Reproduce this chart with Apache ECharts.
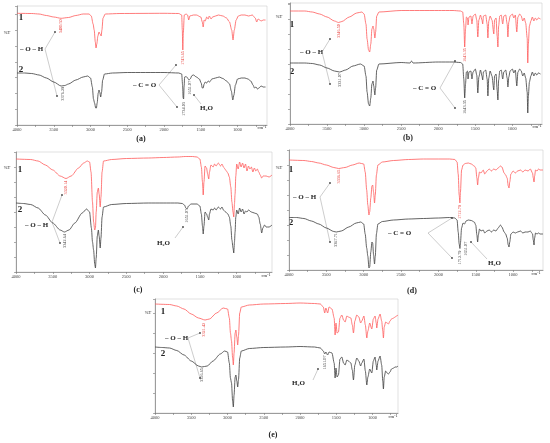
<!DOCTYPE html>
<html>
<head>
<meta charset="utf-8">
<script src="https://cdn.jsdelivr.net/npm/echarts@6/dist/echarts.min.js"></script>
<style>
  html, body { margin: 0; padding: 0; background: #fff; }
  #chart { width: 550px; height: 443px; }
</style>
</head>
<body>
<div id="chart"></div>
<script>
// wavenumber ticks shared by every panel
var wnTicks = [4000, 3500, 3000, 2500, 2000, 1500, 1000];
var wnMinor = [4000, 3750, 3500, 3250, 3000, 2750, 2500, 2250, 2000, 1750, 1500, 1250, 1000, 750];

// (a) spectra, [wavenumber, %T]
var a1 = [[4000,111.7],[3800,111.5],[3700,111],[3600,109.5],[3500,108],[3400,106.7],[3300,107.5],[3200,109.5],[3100,111],[3020,111],[2990,109],[2965,101],[2950,95],[2935,83],[2925,77],[2915,81],[2900,89],[2885,93],[2870,91],[2855,89],[2845,95],[2830,107],[2800,111],[2600,111.5],[2000,111.7],[1800,111.5],[1760,110],[1752,95],[1745,75],[1738,92],[1725,110],[1700,111],[1680,110],[1665,105],[1650,109],[1600,110],[1560,110],[1500,108],[1480,103],[1468,98],[1455,105],[1440,104],[1420,108],[1400,106],[1385,109],[1360,106],[1340,108],[1300,109],[1260,110],[1200,109],[1150,107],[1110,103],[1080,95],[1062,85],[1045,95],[1020,105],[990,109],[950,110],[900,110],[850,109],[800,110],[760,107],[740,103],[720,106],[700,105],[680,104],[650,105],[620,105]];
var a2 = [[4000,52],[3900,52],[3800,51.5],[3700,50],[3600,47],[3500,43],[3400,39],[3350,39.5],[3300,41],[3200,45],[3100,48],[3040,49],[3000,47],[2975,38],[2960,26],[2945,22],[2930,17],[2920,17],[2910,22],[2895,32],[2885,35],[2875,33],[2862,28],[2850,33],[2835,45],[2810,51],[2700,52],[2500,52.5],[2000,52.5],[1800,52],[1760,51],[1748,40],[1740,27],[1734,26],[1728,38],[1720,48],[1700,48.5],[1680,47],[1660,45],[1645,46],[1620,49.5],[1600,50],[1560,48],[1520,46],[1495,42],[1480,37],[1468,37],[1455,41],[1440,43],[1420,42],[1400,44],[1380,43],[1350,46],[1300,47],[1250,48],[1200,46.5],[1150,44],[1110,41],[1085,34],[1065,25],[1050,30],[1030,40],[1000,46],[950,47],[900,47],[860,46],[820,44],[790,40],[770,37],[750,38],[730,36],[710,37],[680,39],[650,38],[620,38]];

// (b)
var b1 = [[4000,113],[3800,113],[3700,112],[3600,110],[3500,107],[3400,103],[3346,101.5],[3300,102.5],[3200,107],[3100,111],[3030,112],[3000,110],[2975,100],[2960,85],[2940,74],[2925,72],[2910,80],[2895,95],[2880,98],[2870,95],[2855,86],[2845,92],[2830,108],[2800,112],[2500,113.5],[2000,113.5],[1800,113.5],[1700,113],[1670,112],[1655,100],[1643,77],[1632,95],[1620,107],[1605,106],[1598,99],[1585,107],[1560,108],[1545,100],[1530,108],[1500,110],[1480,104],[1466,87],[1452,104],[1430,109],[1410,104],[1400,100],[1390,108],[1360,109],[1340,100],[1330,86],[1318,103],[1300,108],[1275,104],[1250,90],[1240,104],[1220,106],[1205,88],[1195,77],[1185,98],[1170,108],[1150,109],[1130,100],[1115,108],[1090,109],[1070,100],[1060,87],[1048,102],[1030,108],[1000,110],[980,106],[960,109],[940,92],[925,107],[900,110],[880,108],[860,103],[840,106],[820,101],[800,86],[792,61],[784,80],[770,98],[750,103],[730,107],[710,103],[690,106],[670,104],[650,106],[620,105]];
var b2 = [[4000,61],[3800,61],[3700,60.5],[3600,59],[3500,56],[3400,53],[3331,52],[3250,54],[3150,58],[3050,60],[3000,58],[2975,48],[2960,32],[2940,20],[2925,18],[2910,26],[2895,40],[2880,43],[2870,38],[2855,29],[2845,36],[2830,54],[2800,60],[2500,61.5],[2380,61],[2360,63],[2340,61],[2000,62],[1800,62],[1700,61.5],[1670,60],[1655,45],[1643,26],[1632,40],[1620,52],[1605,53],[1598,45],[1585,52],[1560,53],[1545,45],[1530,52],[1500,55],[1480,49],[1466,31],[1452,47],[1430,54],[1410,48],[1400,44],[1390,52],[1360,54],[1340,45],[1330,28],[1318,46],[1300,53],[1275,48],[1250,34],[1240,48],[1220,50],[1205,34],[1195,24],[1185,44],[1170,53],[1150,54],[1130,45],[1115,52],[1090,54],[1070,46],[1060,37],[1048,47],[1030,53],[1000,55],[980,51],[960,54],[940,38],[925,52],[900,55],[880,53],[860,48],[840,51],[820,46],[800,32],[792,11],[784,28],[770,42],[750,48],[730,52],[710,48],[690,51],[670,49],[650,51],[620,50]];

// (c)
var c1 = [[4000,113],[3800,112.5],[3700,111],[3600,107],[3500,102],[3400,96],[3320,93.5],[3250,96],[3150,104],[3080,109],[3030,111],[3000,110],[2980,100],[2960,70],[2945,50],[2930,42],[2920,44],[2910,60],[2895,80],[2880,84],[2870,78],[2855,65],[2845,75],[2830,100],[2810,111],[2700,112.5],[2500,113.5],[2200,114],[2000,114.5],[1800,115],[1700,115.5],[1600,115.5],[1540,115],[1500,113],[1480,105],[1465,90],[1455,77],[1445,90],[1430,106],[1410,104],[1395,98],[1380,93],[1370,100],[1350,107],[1320,105],[1300,108],[1280,106],[1250,109],[1220,106],[1200,108],[1180,105],[1150,102],[1120,99],[1100,95],[1080,85],[1065,70],[1050,60],[1040,55],[1030,68],[1022,78],[1012,96],[1000,108],[980,103],[960,110],[940,105],[920,109],[900,104],[880,108],[860,101],[840,106],[820,103],[800,105],[780,100],[760,104],[740,101],[720,103],[700,100],[680,97],[660,94],[640,96],[600,96],[560,95],[520,97]];
var c2 = [[4000,69],[3900,68.5],[3800,67.5],[3700,64],[3600,57],[3500,49],[3400,42],[3342,40],[3280,42],[3200,49],[3100,59],[3040,63],[3000,60],[2975,44],[2960,30],[2945,22],[2930,8],[2920,4],[2910,14],[2895,36],[2880,42],[2870,36],[2855,24],[2845,34],[2830,55],[2810,65],[2700,67.5],[2500,68.5],[2200,69],[2000,69],[1800,69],[1740,68.5],[1710,67],[1690,64],[1675,63],[1655,66],[1620,68],[1540,68],[1500,66],[1480,58],[1465,46],[1455,38],[1445,46],[1430,60],[1410,58],[1395,55],[1380,52],[1370,58],[1350,63],[1320,62],[1300,64],[1280,62],[1250,65],[1220,63],[1200,65],[1180,62],[1150,60],[1120,58],[1100,55],[1080,46],[1065,32],[1050,24],[1040,19],[1030,30],[1022,40],[1012,55],[1000,62],[980,58],[960,64],[940,60],[920,63],[900,58],[880,61],[860,60],[840,62],[800,60],[760,59],[720,58],[700,55],[680,48],[660,39],[645,44],[620,47],[600,45],[560,45],[520,47]];

// (d)
var d1 = [[4000,110],[3800,109.5],[3700,108.5],[3600,107],[3500,105],[3400,102.5],[3336,101.5],[3250,102.5],[3150,105],[3060,107],[3000,106],[2980,98],[2960,80],[2945,65],[2930,55],[2920,58],[2905,72],[2890,84],[2880,85],[2868,78],[2855,67],[2845,75],[2830,95],[2810,105],[2750,108],[2600,109.5],[2400,110.5],[2200,111],[2000,111],[1850,111],[1780,110.5],[1750,108],[1735,96],[1722,75],[1712,67],[1705,78],[1690,100],[1670,105],[1640,106.5],[1600,107],[1560,106],[1520,104],[1500,102],[1485,92],[1475,85],[1465,92],[1450,98],[1430,97],[1400,100],[1380,96],[1350,99],[1320,101],[1290,99],[1260,101],[1230,100],[1200,102],[1170,104],[1150,103],[1120,97],[1100,95],[1080,92],[1065,84],[1055,82],[1045,88],[1030,96],[1000,99],[970,97],[940,99],[900,100],[870,98],[840,100],[800,99],[770,101],[740,97],[730,92],[720,88],[712,94],[700,100],[680,99],[660,101],[640,100],[600,100]];
var d2 = [[4000,52.5],[3900,52.5],[3800,51.5],[3700,49],[3600,46],[3500,42],[3400,38.5],[3367,38],[3300,39],[3200,43],[3100,47],[3040,48],[3000,46],[2980,36],[2960,22],[2945,14],[2930,2],[2920,3],[2905,18],[2890,28],[2880,27],[2868,15],[2855,6],[2845,14],[2830,36],[2810,46],[2750,48.5],[2600,50],[2400,51],[2200,51.5],[2000,52],[1850,52.5],[1780,52],[1750,50],[1735,38],[1722,26],[1712,21.5],[1705,27],[1690,42],[1670,47],[1651,46],[1630,49],[1600,50],[1560,49.5],[1520,48],[1500,45],[1485,35],[1475,28],[1465,35],[1450,41],[1430,39],[1400,40],[1380,37],[1350,39],[1320,40],[1290,38],[1260,40],[1230,39],[1200,42],[1170,45],[1150,43],[1120,38],[1100,36],[1080,32],[1065,25],[1055,23],[1045,28],[1030,36],[1000,38],[970,37],[940,38],[900,39],[870,37],[840,38],[800,38],[770,39],[740,36],[730,30],[720,25],[712,32],[700,37],[680,36],[660,37],[640,36],[600,36]];

// (e)
var e1 = [[4000,109],[3800,108.5],[3700,107],[3600,104],[3500,99],[3400,95],[3310,93],[3250,94],[3150,100],[3060,105],[3000,104],[2975,95],[2960,80],[2945,72],[2930,55],[2920,48],[2910,60],[2895,80],[2885,83],[2872,76],[2860,68],[2848,78],[2832,100],[2810,106],[2700,108],[2500,109],[2200,109.5],[2000,110],[1800,109.5],[1720,109],[1680,106],[1660,100],[1645,105],[1620,100],[1600,106],[1560,104],[1530,95],[1517,78],[1505,90],[1490,80],[1471,81],[1450,95],[1425,98],[1400,93],[1379,91],[1355,97],[1333,96],[1300,95],[1280,88],[1264,80],[1245,92],[1218,98],[1190,96],[1165,90],[1149,92],[1120,97],[1100,88],[1080,75],[1065,82],[1040,90],[1011,84],[990,94],[966,97],[950,90],[943,85],[925,94],[897,99],[875,92],[860,82],[851,75],[840,86],[820,91],[800,90],[782,89],[760,92],[740,94],[710,95],[690,96],[670,97],[650,98]];
var e2 = [[4000,66],[3900,65.5],[3800,65],[3700,62.5],[3600,58],[3500,52],[3400,47],[3356,46],[3280,47],[3200,52],[3100,59],[3040,62],[3000,61],[2975,50],[2960,35],[2945,30],[2930,12],[2920,6],[2910,18],[2895,36],[2885,38],[2872,32],[2860,26],[2848,34],[2832,55],[2810,62],[2700,64.5],[2500,65.5],[2200,66],[2000,66.5],[1800,66],[1720,65],[1680,62],[1660,59],[1645,61],[1620,58],[1600,61],[1560,60],[1530,50],[1517,35],[1505,45],[1490,36],[1471,38],[1450,54],[1425,56],[1400,50],[1379,48],[1355,53],[1333,52],[1300,50],[1280,43],[1264,33],[1245,48],[1218,55],[1190,52],[1165,47],[1149,50],[1120,54],[1100,42],[1080,28],[1065,36],[1040,44],[1011,40],[990,52],[966,56],[950,48],[943,43],[925,52],[897,57],[875,48],[860,32],[851,24],[840,36],[820,42],[800,40],[782,39],[760,41],[740,44],[710,45],[690,46],[670,46],[650,47]];

// peak labels, [wavenumber, text]
var peaks = {
    a1: [[3400, '3400.50'], [1745, '1743.65']],
    a2: [[3376, '3376.29'], [1734, '1734.03'], [1655, '1651.07']],
    b1: [[3346, '3346.50'], [1643, '1643.35']],
    b2: [[3331, '3331.07'], [1643, '1643.35']],
    c1: [[3320, '3320.14']],
    c2: [[3342, '3342.64'], [1680, '1651.07']],
    d1: [[3336, '3336.65'], [1712, '1712.79']],
    d2: [[3367, '3367.71'], [1712, '1712.79'], [1635, '1651.07']],
    e1: [[3321, '3321.42']],
    e2: [[3356, '3356.65'], [1655, '1651.07']]
};
// gap (px) between curve and its label
var peakGap = {
    a1: [1, 1], a2: [1, 3, 1], b1: [1.5, 1], b2: [1, 2], c1: [2], c2: [2, 0],
    d1: [1, 2], d2: [1, 2, 20], e1: [3], e2: [1, 2]
};

var RED = '#ff5b5b', RED_TXT = '#e8413c', DARK = '#3c3c3c', SERIF = 'Liberation Serif';

var panels = [
    {name: '(a)', grid: {left: 17, top: 6, width: 250, height: 119}, min: 600, ymax: 119, tick: 15.8, series: ['a1', 'a2']},
    {name: '(b)', grid: {left: 290, top: 3, width: 252, height: 121}, min: 600, ymax: 121, tick: 15, series: ['b1', 'b2']},
    {name: '(c)', grid: {left: 16, top: 152, width: 256, height: 120}, min: 520, ymax: 120, tick: 15, series: ['c1', 'c2']},
    {name: '(d)', grid: {left: 289, top: 150, width: 254, height: 120}, min: 600, ymax: 120, tick: 15, series: ['d1', 'd2']},
    {name: '(e)', grid: {left: 155, top: 299, width: 243, height: 114}, min: 650, ymax: 114, tick: 20, series: ['e1', 'e2']}
];
var spectra = {a1: a1, a2: a2, b1: b1, b2: b2, c1: c1, c2: c2, d1: d1, d2: d2, e1: e1, e2: e2};

function valueAt(pts, wn) {
    for (var i = 0; i < pts.length - 1; i++) {
        var p = pts[i], q = pts[i + 1];
        if ((p[0] - wn) * (q[0] - wn) <= 0) {
            var t = p[0] === q[0] ? 0 : (wn - p[0]) / (q[0] - p[0]);
            return p[1] + t * (q[1] - p[1]);
        }
    }
    return pts[pts.length - 1][1];
}

var grids = [], xAxes = [], yAxes = [], series = [];
panels.forEach(function (p, i) {
    grids.push(Object.assign({show: true, borderColor: '#cfcfcf', borderWidth: 0.6}, p.grid));
    xAxes.push({
        type: 'value', gridIndex: i, inverse: true, min: p.min, max: 4000,
        axisLine: {lineStyle: {color: '#777', width: 0.7}},
        axisTick: {customValues: wnMinor, length: 2, lineStyle: {color: '#777', width: 0.6}},
        axisLabel: {customValues: wnTicks, fontSize: 4.5, fontFamily: SERIF, color: '#444', margin: 2,
            formatter: function (v) { return String(v); }},
        splitLine: {show: false}
    });
    yAxes.push({
        type: 'value', gridIndex: i, min: 0, max: p.ymax, interval: p.tick,
        axisLine: {show: true, lineStyle: {color: '#777', width: 0.7}},
        axisTick: {show: true, length: 2, lineStyle: {color: '#777', width: 0.6}},
        axisLabel: {show: false},
        splitLine: {show: false}
    });
    p.series.forEach(function (key, k) {
        var pts = spectra[key];
        var col = k === 0 ? RED : DARK;
        series.push({
            type: 'line', xAxisIndex: i, yAxisIndex: i, data: pts,
            showSymbol: false, smooth: 0.25, smoothMonotone: 'x', silent: true,
            lineStyle: {color: col, width: 0.8},
            markPoint: {
                symbol: 'circle', symbolSize: 0, silent: true,
                label: {show: true, rotate: 90, align: 'right', verticalAlign: 'middle',
                    fontSize: 4.3, fontFamily: SERIF, color: k === 0 ? RED_TXT : '#444'},
                data: peaks[key].map(function (pk, j) {
                    return {coord: [pk[0], valueAt(pts, pk[0])],
                        label: {formatter: pk[1], position: [0, peakGap[key][j]]}};
                })
            }
        });
    });
});

// text annotations and leader lines, in pixels
var texts = [
    // [text, x, y, size, bold, align]
    ['%T', 7, 33, 4.5, false, 'center'], ['1', 21, 18, 9, true, 'center'], ['2', 21, 70, 9, true, 'center'],
    ['– O – H', 20, 49, 7, true, 'left'], ['– C = O', 133, 85, 7, true, 'left'], ['H₂O', 200, 108, 7, true, 'left'],
    ['(a)', 141, 139, 8, true, 'center'], ['cm⁻¹', 262, 128, 4.5, false, 'center'],

    ['%T', 279, 17, 4.5, false, 'center'], ['1', 292, 25, 9, true, 'center'], ['2', 292, 72, 9, true, 'center'],
    ['– O – H', 300, 52, 7, true, 'left'], ['– C = O', 413, 88, 7, true, 'left'],
    ['(b)', 408, 138, 8, true, 'center'], ['cm⁻¹', 537, 127, 4.5, false, 'center'],

    ['%T', 7, 168, 4.5, false, 'center'], ['1', 20, 170, 9, true, 'center'], ['2', 20, 210, 9, true, 'center'],
    ['– O – H', 25, 225, 7, true, 'left'], ['H₂O', 157, 243, 7, true, 'left'],
    ['(c)', 138, 290, 8, true, 'center'], ['cm⁻¹', 266, 276, 4.5, false, 'center'],

    ['%T', 279, 168, 4.5, false, 'center'], ['1', 291, 170, 9, true, 'center'], ['2', 291, 223, 9, true, 'center'],
    ['– O – H', 293, 197, 7, true, 'left'], ['– C = O', 388, 233, 7, true, 'left'], ['H₂O', 488, 263, 7, true, 'left'],
    ['(d)', 412, 291, 8, true, 'center'], ['cm⁻¹', 536, 274, 4.5, false, 'center'],

    ['%T', 148, 313, 4.5, false, 'center'], ['1', 163, 312, 9, true, 'center'], ['2', 163, 354, 9, true, 'center'],
    ['– O – H', 165, 338, 7, true, 'left'], ['H₂O', 292, 383, 7, true, 'left'],
    ['(e)', 273, 435, 8, true, 'center'], ['cm⁻¹', 393, 417, 4.5, false, 'center']
];
var leaders = [
    [45, 49, 55, 32], [45, 49, 57, 96], [159, 85, 176, 65], [159, 85, 177, 107], [201, 104, 194, 95],
    [322, 52, 330, 39], [322, 52, 330, 84], [440, 88, 455, 61], [440, 88, 455, 108],
    [52, 222, 62, 195], [52, 222, 60, 243], [175, 238, 183, 227],
    [320, 197, 330, 183], [320, 197, 330, 242], [428, 233, 452, 218], [428, 233, 452, 258], [487, 259, 471, 242],
    [188, 338, 200, 333], [188, 338, 200, 378], [313, 380, 318, 369]
];

var graphic = [];
texts.forEach(function (t) {
    graphic.push({
        type: 'text', x: t[1], y: t[2], silent: true,
        style: {text: t[0], fontSize: t[3], fontWeight: t[4] ? 'bold' : 'normal', fontFamily: SERIF,
            fill: '#222', align: t[5], verticalAlign: 'middle'}
    });
});
leaders.forEach(function (l) {
    graphic.push({type: 'line', silent: true, shape: {x1: l[0], y1: l[1], x2: l[2], y2: l[3]},
        style: {stroke: '#9a9a9a', lineWidth: 0.5}});
    graphic.push({type: 'circle', silent: true, shape: {cx: l[2], cy: l[3], r: 0.9}, style: {fill: '#444'}});
});

var chart = echarts.init(document.getElementById('chart'), null, {renderer: 'canvas'});
chart.setOption({
    animation: false,
    backgroundColor: '#fff',
    grid: grids,
    xAxis: xAxes,
    yAxis: yAxes,
    series: series,
    graphic: graphic
});
</script>
</body>
</html>
